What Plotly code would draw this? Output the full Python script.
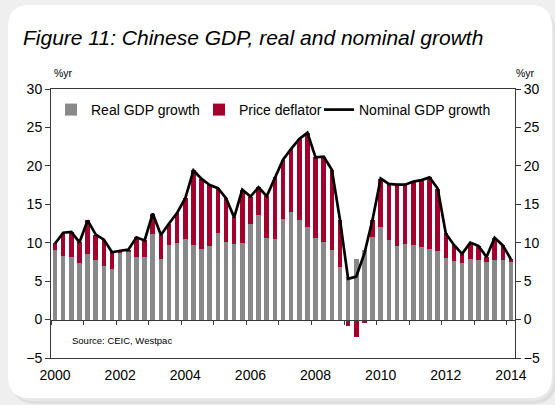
import plotly.graph_objects as go

# ---------------- data (quarterly, % y/y) ----------------
quarter_labels = [f"{y}Q{q}" for y in range(2000, 2014) for q in range(1, 5)] + ["2014Q1"]

real_gdp = [9.0, 8.3, 8.2, 7.35, 8.55, 7.8, 7.0, 6.6,
            8.7, 8.8, 8.15, 8.15, 11.1, 7.9, 9.65, 9.95,
            10.45, 9.65, 9.15, 9.55, 11.25, 10.1, 9.85, 9.95,
            12.4, 13.65, 10.65, 10.45, 13.05, 14.0, 13.0, 12.1,
            10.65, 10.15, 9.05, 6.85, 5.6, 7.9, 9.1, 10.8,
            12.0, 10.35, 9.6, 9.8, 9.7, 9.5, 9.15, 8.9,
            8.0, 7.6, 7.4, 7.9, 7.75, 7.5, 7.8, 7.75,
            7.45]

price_deflator = [0.9, 3.0, 3.2, 2.7, 4.35, 3.25, 3.4, 2.15,
                  0.25, 0.3, 2.55, 2.15, 2.7, 3.1, 2.85, 3.95,
                  5.35, 9.75, 9.15, 7.95, 5.85, 5.7, 3.45, 6.95,
                  3.6, 3.55, 5.4, 8.05, 7.75, 8.2, 10.5, 12.2,
                  10.45, 11.05, 10.45, 6.15, -0.9, -2.3, -0.5, 2.2,
                  6.35, 7.3, 7.95, 7.75, 8.25, 8.65, 9.35, 8.15,
                  3.2, 2.1, 1.15, 2.1, 1.85, 0.65, 2.85, 1.9,
                  0.4]

nominal_gdp = [9.9, 11.3, 11.4, 10.05, 12.9, 11.05, 10.4, 8.75,
               8.95, 9.1, 10.7, 10.3, 13.8, 11.0, 12.5, 13.9,
               15.8, 19.4, 18.3, 17.5, 17.1, 15.8, 13.3, 16.9,
               16.0, 17.2, 16.05, 18.5, 20.8, 22.2, 23.5, 24.3,
               21.1, 21.2, 19.5, 13.0, 5.3, 5.6, 8.6, 13.0,
               18.35, 17.65, 17.55, 17.55, 17.95, 18.15, 18.5, 17.05,
               11.2, 9.7, 8.55, 10.0, 9.6, 8.15, 10.65, 9.65,
               7.85]

year_ticks = [2000, 2002, 2004, 2006, 2008, 2010, 2012, 2014]
y_ticks = [-5, 0, 5, 10, 15, 20, 25, 30]

# quarter label -> decimal year position
x_pos = [int(s[:4]) + (int(s[-1]) - 1) / 4 for s in quarter_labels]

# ---------------- geometry helpers ----------------
W, H = 555, 405
L, R, T, B = 51, 515, 89, 358
def xp(px):
    return (px - L) / (R - L)
def yp(py):
    return (B - py) / (B - T)

FONT = "Liberation Sans, Arial, sans-serif"
GREY = "#898989"
RED = "#A3002D"
AXIS = "#3a3a3a"

fig = go.Figure()
fig.add_trace(go.Bar(x=x_pos, y=real_gdp, name="Real GDP growth",
                     marker=dict(color=GREY, line=dict(width=0)),
                     width=0.14, legendwidth=103))
fig.add_trace(go.Bar(x=x_pos, y=price_deflator, name="Price deflator",
                     marker=dict(color=RED, line=dict(width=0)),
                     width=0.14, legendwidth=75))
fig.add_trace(go.Scatter(x=x_pos, y=nominal_gdp, name="Nominal GDP growth",
                         mode="lines", line=dict(color="black", width=2.7),
                         xaxis="x2", yaxis="y2"))

xr = [1999.875, 2014.125]
yr = [-5, 30]

def card_path(x0, y0, x1, y1, r):
    pts = (f"M {xp(x0 + r)},{yp(y0)} L {xp(x1 - r)},{yp(y0)} "
           f"Q {xp(x1)},{yp(y0)} {xp(x1)},{yp(y0 + r)} "
           f"L {xp(x1)},{yp(y1 - r)} Q {xp(x1)},{yp(y1)} {xp(x1 - r)},{yp(y1)} "
           f"L {xp(x0 + r)},{yp(y1)} Q {xp(x0)},{yp(y1)} {xp(x0)},{yp(y1 - r)} "
           f"L {xp(x0)},{yp(y0 + r)} Q {xp(x0)},{yp(y0)} {xp(x0 + r)},{yp(y0)} Z")
    return pts

shapes = [
    dict(type="path", xref="paper", yref="paper", layer="below",
         path=card_path(12, 9, 556, 404, 24), fillcolor="#dedede", line=dict(width=0)),
    dict(type="path", xref="paper", yref="paper", layer="below",
         path=card_path(10, 7, 554, 401, 24), fillcolor="#e8e8e8", line=dict(width=0)),
    dict(type="path", xref="paper", yref="paper", layer="below",
         path=card_path(8, 5, 552, 398, 22), fillcolor="white", line=dict(width=0)),
]

annotations = [
    dict(text="Figure 11: Chinese GDP, real and nominal growth", xref="paper", yref="paper",
         x=xp(21), y=yp(38), xanchor="left", yanchor="middle", showarrow=False,
         font=dict(family=FONT, size=21, style="italic", color="black")),
    dict(text="%yr", xref="paper", yref="paper", x=xp(63), y=yp(73),
         xanchor="center", yanchor="middle", showarrow=False,
         font=dict(family=FONT, size=10.5, color="black")),
    dict(text="%yr", xref="paper", yref="paper", x=xp(525), y=yp(73),
         xanchor="center", yanchor="middle", showarrow=False,
         font=dict(family=FONT, size=10.5, color="black")),
    dict(text="Source: CEIC, Westpac", xref="paper", yref="paper", x=xp(70), y=yp(340),
         xanchor="left", yanchor="middle", showarrow=False,
         font=dict(family=FONT, size=9.5, color="black")),
]

fig.update_layout(
    width=W, height=H,
    margin=dict(l=L, r=W - R, t=T, b=H - B, pad=0),
    paper_bgcolor="#efefef", plot_bgcolor="rgba(0,0,0,0)",
    barmode="relative", bargap=0,
    font=dict(family=FONT, size=14, color="black"),
    showlegend=True,
    legend=dict(orientation="h", x=0, y=yp(110), xanchor="left", yanchor="middle",
                bgcolor="rgba(0,0,0,0)", font=dict(family=FONT, size=14, color="black"),
                traceorder="normal", borderwidth=0),
    xaxis=dict(range=xr, tickmode="array", tickvals=year_ticks,
               ticktext=[str(v) for v in year_ticks], ticks="", showgrid=False,
               zeroline=False, showline=True, linecolor=AXIS, linewidth=1, mirror=True,
               tickfont=dict(size=14), ticklabelstandoff=4, fixedrange=True),
    xaxis2=dict(range=xr, overlaying="x", anchor="free", position=1 / 7, side="bottom",
                showline=True, linecolor=AXIS, linewidth=1, ticks="outside", ticklen=4,
                tickcolor=AXIS, tick0=2000.875, dtick=1, showticklabels=False,
                showgrid=False, zeroline=False),
    yaxis=dict(range=yr, tickmode="array", tickvals=y_ticks, ticks="outside", ticklen=5,
               tickcolor=AXIS, showline=True, linecolor=AXIS, linewidth=1,
               showgrid=False, zeroline=False, tickfont=dict(size=14)),
    yaxis2=dict(range=yr, overlaying="y", side="right", anchor="x", tickmode="array",
                tickvals=y_ticks, ticks="outside", ticklen=5, tickcolor=AXIS,
                showline=True, linecolor=AXIS, linewidth=1, showgrid=False,
                zeroline=False, tickfont=dict(size=14)),
    shapes=shapes, annotations=annotations,
)

fig.write_html("out.html")
